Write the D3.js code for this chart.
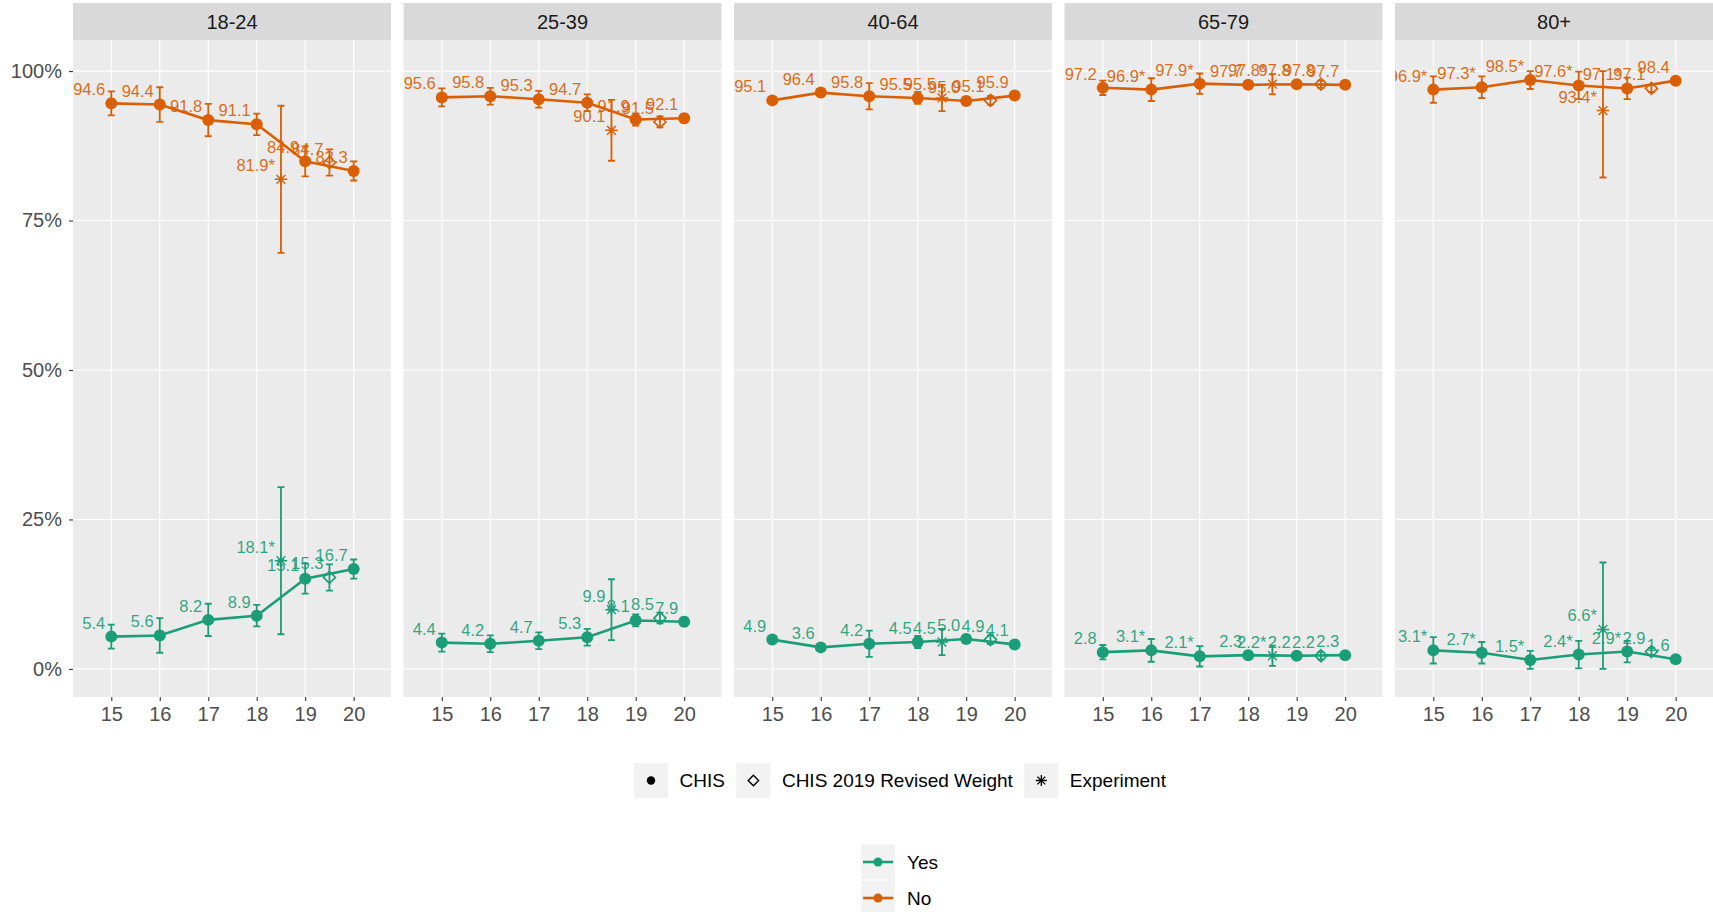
<!DOCTYPE html>
<html><head><meta charset="utf-8">
<script src="https://cdn.jsdelivr.net/npm/d3@7/dist/d3.min.js"></script>
<style>
body{margin:0;background:#fff;}
text{font-family:"Liberation Sans",Arial,Helvetica,sans-serif;}
</style>
</head><body>
<svg id="chart" width="1713" height="912"></svg>
<script>
// ---------------- data ----------------
const groups = ["18-24", "25-39", "40-64", "65-79", "80+"];
const years = [15, 16, 17, 18, 19, 20];
const yTicks = [0, 25, 50, 75, 100];
const yTickLabels = ["0%", "25%", "50%", "75%", "100%"];
const responses = ["Yes", "No"];
const sourceNames = ["CHIS", "CHIS 2019 Revised Weight", "Experiment"];
const experimentYear = 18.5;
const revisedYear = 19.5;

const yesCHIS = [
  [5.4, 5.6, 8.2, 8.9, 15.1, 16.7],
  [4.4, 4.2, 4.7, 5.3, 8.1, 7.9],
  [4.9, 3.6, 4.2, 4.5, 5.0, 4.1],
  [2.8, 3.1, 2.1, 2.3, 2.2, 2.3],
  [3.1, 2.7, 1.5, 2.4, 2.9, 1.6]
];
const noCHIS = [
  [94.6, 94.4, 91.8, 91.1, 84.9, 83.3],
  [95.6, 95.8, 95.3, 94.7, 91.9, 92.1],
  [95.1, 96.4, 95.8, 95.5, 95.0, 95.9],
  [97.2, 96.9, 97.9, 97.7, 97.8, 97.7],
  [96.9, 97.3, 98.5, 97.6, 97.1, 98.4]
];
const moeCHIS = [
  [2.0, 2.9, 2.7, 1.8, 2.5, 1.6],
  [1.5, 1.4, 1.4, 1.4, 1.0, 0.7],
  [0.5, 0.5, 2.2, 1.0, 0.6, 0.4],
  [1.2, 1.9, 1.7, 0.6, 0.5, 0.4],
  [2.2, 1.8, 1.5, 2.3, 1.8, 0.5]
];
const starCHIS = [
  [0, 0, 0, 0, 0, 0],
  [0, 0, 0, 0, 0, 0],
  [0, 0, 0, 0, 0, 0],
  [0, 1, 1, 0, 0, 0],
  [1, 1, 1, 1, 1, 0]
];
const yesRevised = [15.3, 8.5, 4.9, 2.2, 2.9];
const noRevised = [84.7, 91.5, 95.1, 97.8, 97.1];
const moeRevised = [2.2, 0.9, 0.7, 0.6, 0.6];
const starRevised = [0, 0, 0, 0, 0];

const yesExperiment = [18.1, 9.9, 4.5, 2.2, 6.6];
const noExperiment = [81.9, 90.1, 95.5, 97.8, 93.4];
const moeExperiment = [12.3, 5.1, 2.2, 1.7, 11.2];
const starExperiment = [1, 0, 0, 1, 1];

const colors = {Yes: "#1B9E77", No: "#D95F02"};

// ---------------- layout ----------------
const svg = d3.select("#chart");
const panelLeft0 = 73, panelStep = 330.5, panelW = 318;
const stripTop = 3, panelTop = 40, panelBottom = 697;

const x = d3.scaleLinear().domain([14.21, 20.77]).range([0, panelW]);
const y = d3.scaleLinear().domain([-4.7, 105.2]).range([panelBottom, panelTop]);

const clamp = v => Math.max(0, Math.min(100, v));

function seriesFor(g, resp) {
  const vals = resp === "Yes" ? yesCHIS[g] : noCHIS[g];
  const chis = years.map((yr, i) => ({x: yr, v: vals[i], m: moeCHIS[g][i], star: starCHIS[g][i]}));
  const rev = {x: revisedYear, v: resp === "Yes" ? yesRevised[g] : noRevised[g], m: moeRevised[g], star: starRevised[g]};
  const exp = {x: experimentYear, v: resp === "Yes" ? yesExperiment[g] : noExperiment[g], m: moeExperiment[g], star: starExperiment[g]};
  return {chis, rev, exp};
}

const defs = svg.append("defs");

function diamondPath(s) { return `M0,${-s}L${s},0L0,${s}L${-s},0Z`; }
function asteriskPath(s) {
  const d = s * 0.7071;
  return `M0,${-s}V${s}M${-s},0H${s}M${-d},${-d}L${d},${d}M${-d},${d}L${d},${-d}`;
}

groups.forEach((gName, g) => {
  const left = panelLeft0 + g * panelStep;
  const pg = svg.append("g").attr("transform", `translate(${left},0)`);

  // strip
  pg.append("rect").attr("x", 0).attr("y", stripTop).attr("width", panelW).attr("height", panelTop - stripTop)
    .attr("fill", "#D9D9D9");
  pg.append("text").attr("x", panelW / 2).attr("y", (stripTop + panelTop) / 2 + 7)
    .attr("text-anchor", "middle").attr("font-size", 20).attr("fill", "#1A1A1A").text(gName);

  // panel background
  pg.append("rect").attr("x", 0).attr("y", panelTop).attr("width", panelW).attr("height", panelBottom - panelTop)
    .attr("fill", "#EBEBEB");

  // grid
  pg.append("g").selectAll("line").data(yTicks).join("line")
    .attr("x1", 0).attr("x2", panelW).attr("y1", d => y(d)).attr("y2", d => y(d))
    .attr("stroke", "#fff").attr("stroke-width", 1.1);
  pg.append("g").selectAll("line").data(years).join("line")
    .attr("x1", d => x(d)).attr("x2", d => x(d)).attr("y1", panelTop).attr("y2", panelBottom)
    .attr("stroke", "#fff").attr("stroke-width", 1.1);

  // x axis
  const xa = pg.append("g").attr("transform", `translate(0,${panelBottom})`)
    .call(d3.axisBottom(x).tickValues(years).tickFormat(d3.format("d")).tickSize(4).tickPadding(6));
  xa.select(".domain").remove();
  xa.selectAll(".tick line").attr("stroke", "#333333").attr("stroke-width", 1.1);
  xa.selectAll(".tick text").attr("font-size", 20).attr("fill", "#4D4D4D")
    .attr("font-family", '"Liberation Sans",Arial,sans-serif');

  // y axis on first panel
  if (g === 0) {
    const ya = pg.append("g")
      .call(d3.axisLeft(y).tickValues(yTicks).tickFormat((d, i) => yTickLabels[i]).tickSize(4).tickPadding(7));
    ya.select(".domain").remove();
    ya.selectAll(".tick line").attr("stroke", "#333333").attr("stroke-width", 1.1);
    ya.selectAll(".tick text").attr("font-size", 20).attr("fill", "#4D4D4D")
      .attr("font-family", '"Liberation Sans",Arial,sans-serif');
  }

  // clip
  const cid = "clip" + g;
  defs.append("clipPath").attr("id", cid).append("rect")
    .attr("x", 0).attr("y", panelTop).attr("width", panelW).attr("height", panelBottom - panelTop);
  const plot = pg.append("g").attr("clip-path", `url(#${cid})`);

  responses.forEach(resp => {
    const col = colors[resp];
    const s = seriesFor(g, resp);
    const all = s.chis.concat([s.rev, s.exp]);
    const sg = plot.append("g");

    // line through CHIS points
    sg.append("path").datum(s.chis)
      .attr("d", d3.line().x(d => x(d.x)).y(d => y(d.v)))
      .attr("fill", "none").attr("stroke", col).attr("stroke-width", 2.6);

    // error bars
    const cap = 3.5;
    const eb = sg.append("g").attr("stroke", col).attr("stroke-width", 1.8).attr("fill", "none");
    eb.selectAll("path").data(all).join("path")
      .attr("d", d => {
        const cx = x(d.x), lo = y(clamp(d.v - d.m)), hi = y(clamp(d.v + d.m));
        return `M${cx},${lo}V${hi}M${cx - cap},${hi}H${cx + cap}M${cx - cap},${lo}H${cx + cap}`;
      });

    // CHIS points
    sg.append("g").selectAll("circle").data(s.chis).join("circle")
      .attr("cx", d => x(d.x)).attr("cy", d => y(d.v)).attr("r", 6).attr("fill", col);

    // revised weight (open diamond)
    sg.append("path").datum(s.rev)
      .attr("transform", d => `translate(${x(d.x)},${y(d.v)})`)
      .attr("d", diamondPath(6)).attr("fill", "none").attr("stroke", col).attr("stroke-width", 1.6);

    // experiment (asterisk)
    sg.append("path").datum(s.exp)
      .attr("transform", d => `translate(${x(d.x)},${y(d.v)})`)
      .attr("d", asteriskPath(6.2)).attr("fill", "none").attr("stroke", col).attr("stroke-width", 1.4);

    // labels
    sg.append("g").selectAll("text").data(all).join("text")
      .attr("x", d => x(d.x) - 6).attr("y", d => y(d.v) - 8)
      .attr("text-anchor", "end").attr("font-size", 16.5).attr("fill", col).attr("fill-opacity", 0.92)
      .text(d => d.v.toFixed(1) + (d.star ? "*" : ""));
  });
});

// ---------------- legends ----------------
const keyW = 34, keyH = 35;
// shape legend
const leg1 = svg.append("g");
let cx = 634;
const legCy = 780.5;
sourceNames.forEach((name, i) => {
  const kg = leg1.append("g").attr("transform", `translate(${cx},${legCy - keyH / 2})`);
  kg.append("rect").attr("width", keyW).attr("height", keyH).attr("fill", "#F2F2F2");
  const c = kg.append("g").attr("transform", `translate(${keyW / 2},${keyH / 2})`);
  if (i === 0) c.append("circle").attr("r", 4.2).attr("fill", "#000");
  if (i === 1) c.append("path").attr("d", diamondPath(5.2)).attr("fill", "none").attr("stroke", "#000").attr("stroke-width", 1.4);
  if (i === 2) c.append("path").attr("d", asteriskPath(5.5)).attr("fill", "none").attr("stroke", "#000").attr("stroke-width", 1.3);
  const t = leg1.append("text").attr("x", cx + keyW + 11.5).attr("y", legCy + 6.8)
    .attr("font-size", 19).attr("fill", "#000").text(name);
  cx = cx + keyW + 11.5 + t.node().getComputedTextLength() + 11.5;
});

// colour legend
const leg2 = svg.append("g");
responses.forEach((resp, i) => {
  const cy = 862 + i * 36;
  const kg = leg2.append("g").attr("transform", `translate(861,${cy - keyH / 2})`);
  kg.append("rect").attr("width", keyW).attr("height", keyH).attr("fill", "#F2F2F2");
  kg.append("line").attr("x1", 2).attr("x2", keyW - 2).attr("y1", keyH / 2).attr("y2", keyH / 2)
    .attr("stroke", colors[resp]).attr("stroke-width", 2.6);
  kg.append("circle").attr("cx", keyW / 2).attr("cy", keyH / 2).attr("r", 4.5).attr("fill", colors[resp]);
  leg2.append("text").attr("x", 861 + keyW + 12).attr("y", cy + 6.8)
    .attr("font-size", 19).attr("fill", "#000").text(resp);
});
</script>
</body></html>
